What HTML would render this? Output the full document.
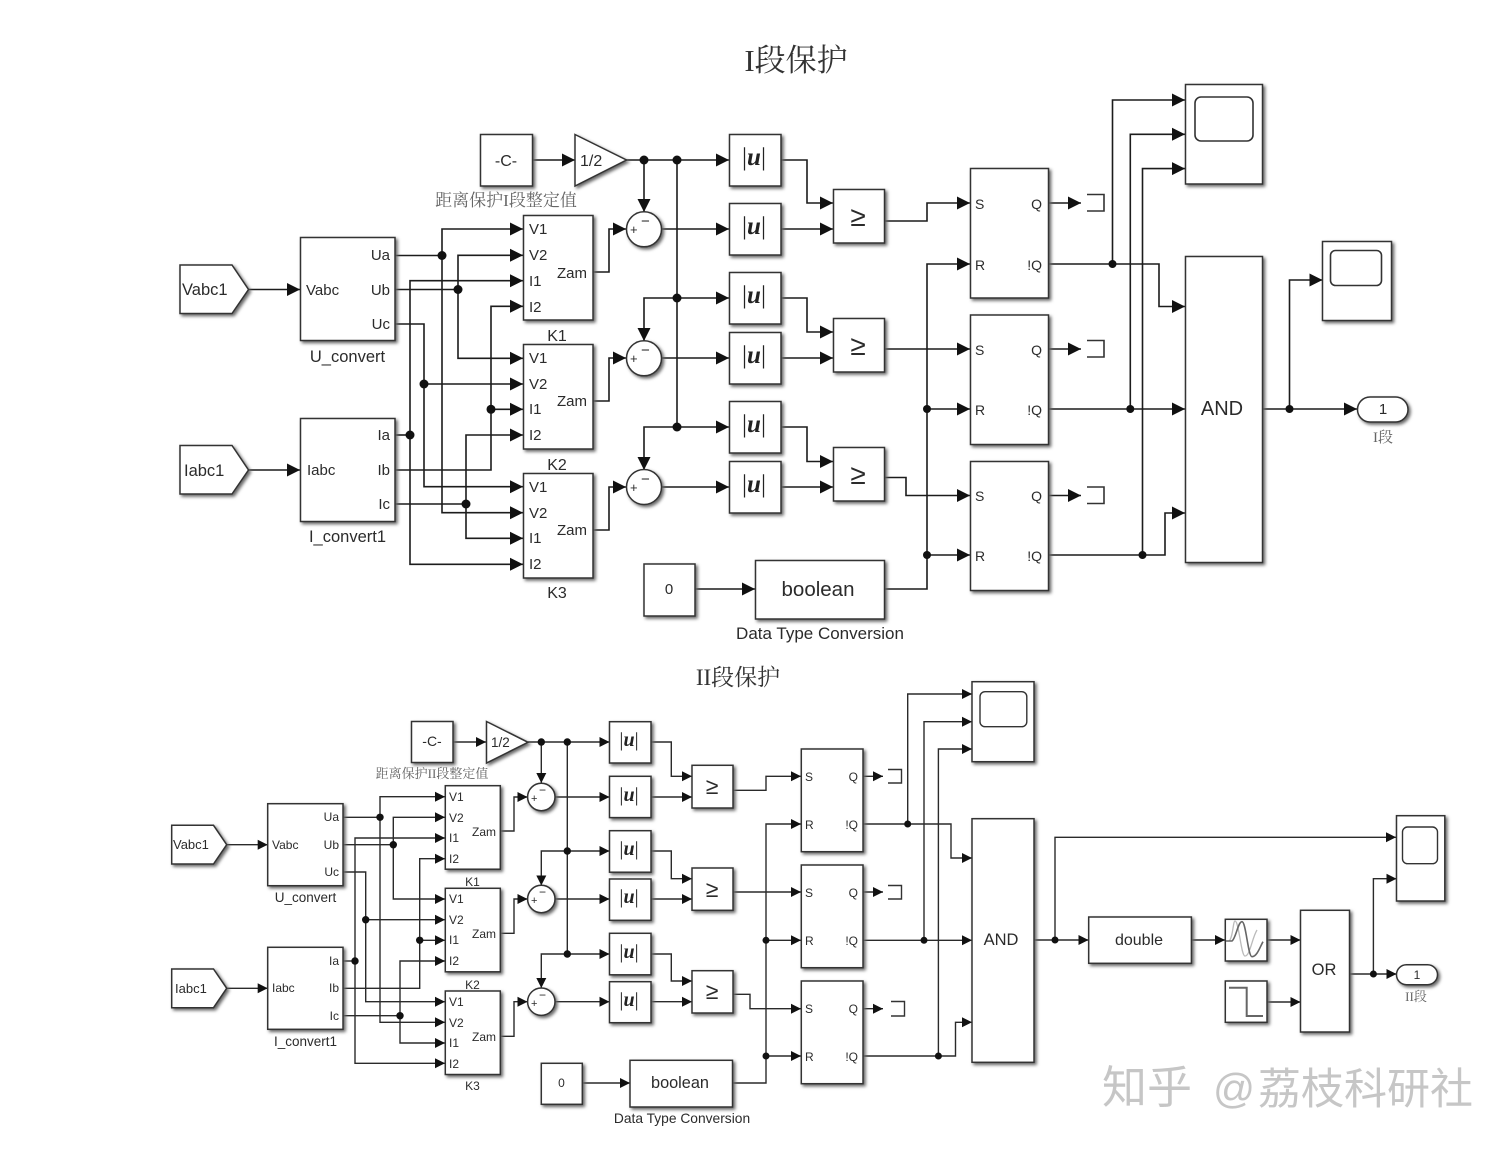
<!DOCTYPE html>
<html lang="zh">
<head>
<meta charset="utf-8">
<title>I段保护 / II段保护</title>
<style>
html,body{margin:0;padding:0;background:#fff}
svg{display:block;filter:blur(.35px)}
.w{fill:none;stroke:#1c1c1c;stroke-width:1.6}
.w2{fill:none;stroke:#2a2a2a;stroke-width:1.4}
.b rect,.b path.s,.b circle{fill:#fff;stroke:#333;stroke-width:1.5}
.b{filter:drop-shadow(2.5px 2.5px 1.5px #666)}
text{font-family:"Liberation Sans","Noto Sans CJK SC",sans-serif;fill:#2b2b2b}
.m{text-anchor:middle}.e{text-anchor:end}
.u{font-family:"Liberation Serif",serif;font-size:25px;text-anchor:middle;fill:#222}
.u2{font-family:"Liberation Serif",serif;font-size:20px;text-anchor:middle;fill:#222}
.u tspan,.u2 tspan{font-style:italic;font-weight:bold}
.t{font-family:"Liberation Serif","Noto Serif CJK SC",serif;text-anchor:middle;fill:#333}
.c{font-family:"Liberation Serif","Noto Serif CJK SC",serif;text-anchor:middle;fill:#666}
</style>
</head>
<body>
<svg xmlns="http://www.w3.org/2000/svg" width="1511" height="1150" viewBox="0 0 1511 1150">
<defs>
<marker id="a" markerUnits="userSpaceOnUse" markerWidth="14" markerHeight="14" refX="13" refY="7" orient="auto"><path d="M0 0.5L13 7L0 13.500z" fill="#111"/></marker>
<marker id="c" markerUnits="userSpaceOnUse" markerWidth="11" markerHeight="11" refX="10" refY="5.500" orient="auto"><path d="M0 0.500L10 5.500L0 10.500z" fill="#111"/></marker>
</defs>
<rect width="1511" height="1150" fill="#fff"/>

<text class="t" x="796" y="71" style="font-size:31px">I段保护</text>
<text class="t" x="738" y="685" style="font-size:23px">II段保护</text>

<!-- ================= TOP WIRES ================= -->
<g class="w" marker-end="url(#a)">
<polyline points="532,160 575,160"/>
<polyline points="626,160 729,160"/>
<polyline points="644,160 644,212"/>
<polyline points="661,229 729,229"/>
<polyline points="677,298 729,298"/>
<polyline points="677,298 644,298 644,341"/>
<polyline points="661,358 729,358"/>
<polyline points="677,427 729,427"/>
<polyline points="677,427 644,427 644,470"/>
<polyline points="661,487 729,487"/>
<polyline points="593,272 609,272 609,229 626,229"/>
<polyline points="593,401 609,401 609,358 626,358"/>
<polyline points="593,530 609,530 609,487 626,487"/>
<polyline points="248,289.500 300,289.500"/>
<polyline points="248,470 300,470"/>
<polyline points="442,255.500 442,229 523,229"/>
<polyline points="442,255.500 442,512.700 523,512.700"/>
<polyline points="458,289.500 458,255.300 523,255.300"/>
<polyline points="458,289.500 458,358.300 523,358.300"/>
<polyline points="424,384 523,384"/>
<polyline points="395,324 424,324 424,486.700 523,486.700"/>
<polyline points="410,435 410,280.700 523,280.700"/>
<polyline points="410,435 410,564.300 523,564.300"/>
<polyline points="491,409.300 491,306.300 523,306.300"/>
<polyline points="395,470 491,470 491,409.300 523,409.300"/>
<polyline points="466,504 466,435 523,435"/>
<polyline points="466,504 466,538.300 523,538.300"/>
<polyline points="781,160 807,160 807,203 833,203"/>
<polyline points="781,229 833,229"/>
<polyline points="781,298 807,298 807,332 833,332"/>
<polyline points="781,358 833,358"/>
<polyline points="781,427 807,427 807,461.500 833,461.500"/>
<polyline points="781,487 833,487"/>
<polyline points="884,221 927,221 927,203 970,203"/>
<polyline points="884,349 970,349"/>
<polyline points="884,477.500 906,477.500 906,495.500 970,495.500"/>
<polyline points="927,409 927,264 970,264"/>
<polyline points="927,409 970,409"/>
<polyline points="927,555 970,555"/>
<polyline points="695,589 755,589"/>
<polyline points="1048,203 1081,203"/>
<polyline points="1048,349 1081,349"/>
<polyline points="1048,495.500 1081,495.500"/>
<polyline points="1112.500,264 1112.500,100 1185,100"/>
<polyline points="1048,264 1159,264 1159,306.500 1185,306.500"/>
<polyline points="1130.300,409 1130.300,134.300 1185,134.300"/>
<polyline points="1048,409 1185,409"/>
<polyline points="1142.500,555 1142.500,168.600 1185,168.600"/>
<polyline points="1048,555 1165,555 1165,513 1185,513"/>
<polyline points="1289.500,409 1289.500,280 1322.500,280"/>
<polyline points="1262,409 1357,409"/>
</g>
<g class="w">
<polyline points="677,160 677,427"/>
<polyline points="395,255.500 442,255.500"/>
<polyline points="395,289.500 458,289.500"/>
<polyline points="395,435 410,435"/>
<polyline points="395,504 466,504"/>
<polyline points="884,589 927,589 927,409"/>
</g>
<g fill="#111">
<circle cx="644" cy="160" r="4.500"/><circle cx="677" cy="160" r="4.500"/><circle cx="677" cy="298" r="4.500"/><circle cx="677" cy="427" r="4.500"/>
<circle cx="442" cy="255.500" r="4.500"/><circle cx="458" cy="289.500" r="4.500"/><circle cx="424" cy="384" r="4.500"/><circle cx="410" cy="435" r="4.500"/><circle cx="491" cy="409.300" r="4.500"/><circle cx="466" cy="504" r="4.500"/>
<circle cx="927" cy="409" r="4"/><circle cx="927" cy="555" r="4"/><circle cx="1112.500" cy="264" r="4"/><circle cx="1130.300" cy="409" r="4"/><circle cx="1142.500" cy="555" r="4"/><circle cx="1289.500" cy="409" r="4"/>
</g>

<!-- TOP BLOCKS -->
<g class="b">
<rect x="480.500" y="134.500" width="52" height="51.500"/>
<path class="s" d="M575 134.500L626.500 160L575 186z"/>
<path class="s" d="M180 265H232L248.500 289.500L232 313.500H180z"/>
<path class="s" d="M180 445.500H232L248.500 470L232 494H180z"/>
<rect x="300.500" y="237.500" width="94.500" height="103"/>
<rect x="300.500" y="418.500" width="94.500" height="103"/>
<rect x="523.500" y="215.500" width="69.500" height="104.500"/>
<rect x="523.500" y="344.500" width="69.500" height="104.500"/>
<rect x="523.500" y="473.500" width="69.500" height="104.500"/>
<circle cx="644" cy="229.300" r="17.500"/><circle cx="644" cy="358.300" r="17.500"/><circle cx="644" cy="487" r="17.500"/>
<rect x="729.500" y="134.500" width="51.500" height="51.500"/>
<rect x="729.500" y="203.500" width="51.500" height="51.500"/>
<rect x="729.500" y="272.500" width="51.500" height="51.500"/>
<rect x="729.500" y="332.500" width="51.500" height="51.500"/>
<rect x="729.500" y="401.500" width="51.500" height="51.500"/>
<rect x="729.500" y="461.500" width="51.500" height="51.500"/>
<rect x="833.500" y="189.500" width="51" height="53.500"/>
<rect x="833.500" y="318.500" width="51" height="53.500"/>
<rect x="833.500" y="447.500" width="51" height="53.500"/>
<rect x="970.500" y="168.500" width="78" height="129.500"/>
<rect x="970.500" y="315" width="78" height="129.500"/>
<rect x="970.500" y="461.500" width="78" height="129"/>
<rect x="1185.500" y="84.500" width="77" height="99.500"/>
<rect x="1185.500" y="256.500" width="77" height="306"/>
<rect x="1322.500" y="241.500" width="69" height="79"/>
<rect x="1357.500" y="397" width="50.500" height="25" rx="12.500"/>
<rect x="644" y="564" width="51" height="52"/>
<rect x="755.500" y="560.500" width="129" height="58.500"/>
</g>
<g fill="none" stroke="#333" stroke-width="1.600">
<rect x="1195" y="97" width="58" height="44" rx="6"/>
<rect x="1330.500" y="250.500" width="51" height="35" rx="5"/>
<path d="M1087 194.500H1104V211H1087"/>
<path d="M1087 340.500H1104V357H1087"/>
<path d="M1087 487H1104V503.500H1087"/>
</g>

<!-- TOP TEXT -->
<g style="font-size:15px">
<text class="m" x="506" y="166" style="font-size:16px">-C-</text>
<text x="580" y="166" style="font-size:16px">1/2</text>
<text class="c" x="506" y="206" style="font-size:17px">距离保护I段整定值</text>
<text x="182" y="295" style="font-size:16.500px">Vabc1</text>
<text x="184" y="476" style="font-size:16.500px">Iabc1</text>
<text x="306" y="295">Vabc</text><text x="307" y="475">Iabc</text>
<text class="e" x="390" y="260">Ua</text><text class="e" x="390" y="295">Ub</text><text class="e" x="390" y="329">Uc</text>
<text class="e" x="390" y="440">Ia</text><text class="e" x="390" y="475">Ib</text><text class="e" x="390" y="509">Ic</text>
<text class="m" x="347.500" y="362" style="font-size:16.500px">U_convert</text>
<text class="m" x="347.500" y="542" style="font-size:16.500px">I_convert1</text>
<text x="529" y="234">V1</text><text x="529" y="260">V2</text><text x="529" y="286">I1</text><text x="529" y="312">I2</text>
<text x="529" y="363">V1</text><text x="529" y="389">V2</text><text x="529" y="414">I1</text><text x="529" y="440">I2</text>
<text x="529" y="492">V1</text><text x="529" y="518">V2</text><text x="529" y="543">I1</text><text x="529" y="569">I2</text>
<text class="e" x="587" y="278">Zam</text><text class="e" x="587" y="406">Zam</text><text class="e" x="587" y="535">Zam</text>
<text class="m" x="557" y="341" style="font-size:16px">K1</text><text class="m" x="557" y="470" style="font-size:16px">K2</text><text class="m" x="557" y="598" style="font-size:16px">K3</text>
<text x="630" y="234" style="font-size:13px">+</text><text x="641" y="226" style="font-size:15px">−</text>
<text x="630" y="363" style="font-size:13px">+</text><text x="641" y="355" style="font-size:15px">−</text>
<text x="630" y="492" style="font-size:13px">+</text><text x="641" y="484" style="font-size:15px">−</text>
<text class="u" x="754" y="165">|<tspan>u</tspan>|</text><text class="u" x="754" y="234">|<tspan>u</tspan>|</text>
<text class="u" x="754" y="303">|<tspan>u</tspan>|</text><text class="u" x="754" y="363">|<tspan>u</tspan>|</text>
<text class="u" x="754" y="432">|<tspan>u</tspan>|</text><text class="u" x="754" y="492">|<tspan>u</tspan>|</text>
<text class="m" x="858" y="226" style="font-size:28px">≥</text><text class="m" x="858" y="355" style="font-size:28px">≥</text><text class="m" x="858" y="484" style="font-size:28px">≥</text>
<text x="975" y="209" style="font-size:14px">S</text><text class="e" x="1042" y="209" style="font-size:14px">Q</text>
<text x="975" y="270" style="font-size:14px">R</text><text class="e" x="1042" y="270" style="font-size:14px">!Q</text>
<text x="975" y="355" style="font-size:14px">S</text><text class="e" x="1042" y="355" style="font-size:14px">Q</text>
<text x="975" y="415" style="font-size:14px">R</text><text class="e" x="1042" y="415" style="font-size:14px">!Q</text>
<text x="975" y="501" style="font-size:14px">S</text><text class="e" x="1042" y="501" style="font-size:14px">Q</text>
<text x="975" y="561" style="font-size:14px">R</text><text class="e" x="1042" y="561" style="font-size:14px">!Q</text>
<text class="m" x="1222" y="415" style="font-size:20px">AND</text>
<text class="m" x="1383" y="414" style="font-size:15px">1</text>
<text class="c" x="1383" y="442" style="font-size:15px">I段</text>
<text class="m" x="669" y="594" style="font-size:15px">0</text>
<text class="m" x="818" y="596" style="font-size:20.500px">boolean</text>
<text class="m" x="820" y="639" style="font-size:17px">Data Type Conversion</text>
</g>

<!-- ================= BOTTOM WIRES ================= -->
<g class="w2" marker-end="url(#c)">
<polyline points="453,742 486,742"/>
<polyline points="528,742 609.500,742"/>
<polyline points="541.300,742 541.300,783"/>
<polyline points="555,797 609.500,797"/>
<polyline points="567.300,851 609.500,851"/>
<polyline points="567.300,851 541.300,851 541.300,885.500"/>
<polyline points="555,899 609.500,899"/>
<polyline points="567.300,954 609.500,954"/>
<polyline points="567.300,954 541.300,954 541.300,988"/>
<polyline points="555,1001.700 609.500,1001.700"/>
<polyline points="500,831 514,831 514,797 527.500,797"/>
<polyline points="500,933.300 514,933.300 514,899 527.500,899"/>
<polyline points="500,1036.300 514,1036.300 514,1001.700 527.500,1001.700"/>
<polyline points="227,844.700 267.700,844.700"/>
<polyline points="227,988.300 267.700,988.300"/>
<polyline points="380,817.300 380,796.700 445,796.700"/>
<polyline points="380,817.300 380,1022.300 445,1022.300"/>
<polyline points="393.300,844.700 393.300,817.300 445,817.300"/>
<polyline points="393.300,844.700 393.300,899 445,899"/>
<polyline points="365.700,919.700 445,919.700"/>
<polyline points="343,872 365.700,872 365.700,1001.700 445,1001.700"/>
<polyline points="355,961 355,838 445,838"/>
<polyline points="355,961 355,1063.300 445,1063.300"/>
<polyline points="419.700,940.300 419.700,858.700 445,858.700"/>
<polyline points="343,988.300 419.700,988.300 419.700,940.300 445,940.300"/>
<polyline points="400,1015.700 400,961 445,961"/>
<polyline points="400,1015.700 400,1043 445,1043"/>
<polyline points="651,742 671.300,742 671.300,776.300 692,776.300"/>
<polyline points="651,797 692,797"/>
<polyline points="651,851 671.300,851 671.300,878.700 692,878.700"/>
<polyline points="651,899 692,899"/>
<polyline points="651,954 671.300,954 671.300,981 692,981"/>
<polyline points="651,1001.700 692,1001.700"/>
<polyline points="733,790.300 766,790.300 766,776.300 801,776.300"/>
<polyline points="733,892 801,892"/>
<polyline points="733,994.300 750,994.300 750,1008.700 801,1008.700"/>
<polyline points="766,940.300 766,824 801,824"/>
<polyline points="766,940.300 801,940.300"/>
<polyline points="766,1056 801,1056"/>
<polyline points="582.500,1083 630,1083"/>
<polyline points="863,776.300 883,776.300"/>
<polyline points="863,892 883,892"/>
<polyline points="863,1008.700 883,1008.700"/>
<polyline points="907.700,824 907.700,694 972,694"/>
<polyline points="863,824 951,824 951,858 972,858"/>
<polyline points="924,940.300 924,721.700 972,721.700"/>
<polyline points="863,940.300 972,940.300"/>
<polyline points="938.400,1056 938.400,749 972,749"/>
<polyline points="863,1056 955.500,1056 955.500,1022.300 972,1022.300"/>
<polyline points="1055,940 1055,837.300 1396,837.300"/>
<polyline points="1034,940 1088.500,940"/>
<polyline points="1191.500,940 1225,940"/>
<polyline points="1267,940 1300.500,940"/>
<polyline points="1267,1002 1300.500,1002"/>
<polyline points="1373.400,974 1373.400,878.700 1396.500,878.700"/>
<polyline points="1349.500,974 1396.500,974"/>
</g>
<g class="w2">
<polyline points="567.300,742 567.300,954"/>
<polyline points="343,817.300 380,817.300"/>
<polyline points="343,844.700 393.300,844.700"/>
<polyline points="343,961 355,961"/>
<polyline points="343,1015.700 400,1015.700"/>
<polyline points="733,1083 766,1083 766,940.300"/>
</g>
<g fill="#111">
<circle cx="541.300" cy="742" r="3.700"/><circle cx="567.300" cy="742" r="3.700"/><circle cx="567.300" cy="851" r="3.700"/><circle cx="567.300" cy="954" r="3.700"/>
<circle cx="380" cy="817.300" r="3.700"/><circle cx="393.300" cy="844.700" r="3.700"/><circle cx="365.700" cy="919.700" r="3.700"/><circle cx="355" cy="961" r="3.700"/><circle cx="419.700" cy="940.300" r="3.700"/><circle cx="400" cy="1015.700" r="3.700"/>
<circle cx="766" cy="940.300" r="3.500"/><circle cx="766" cy="1056" r="3.500"/><circle cx="907.700" cy="824" r="3.500"/><circle cx="924" cy="940.300" r="3.500"/><circle cx="938.400" cy="1056" r="3.500"/><circle cx="1055" cy="940" r="3.500"/><circle cx="1373.400" cy="974" r="3.500"/>
</g>

<!-- BOTTOM BLOCKS -->
<g class="b">
<rect x="411.500" y="721.500" width="41.500" height="41"/>
<path class="s" d="M486.500 721.500L528 742.300L486.500 763z"/>
<path class="s" d="M171.700 825.300H213.500L226.700 844.700L213.500 864H171.700z"/>
<path class="s" d="M171.700 969H213.500L226.700 988.300L213.500 1007.700H171.700z"/>
<rect x="267.700" y="803.700" width="75.300" height="82"/>
<rect x="267.700" y="947.300" width="75.300" height="82"/>
<rect x="445.300" y="785.700" width="55" height="83.500"/>
<rect x="445.300" y="888.300" width="55" height="83.500"/>
<rect x="445.300" y="991" width="55" height="83.500"/>
<circle cx="541.300" cy="797" r="13.700"/><circle cx="541.300" cy="899" r="13.700"/><circle cx="541.300" cy="1001.700" r="13.700"/>
<rect x="609.500" y="721.700" width="41.500" height="41.300"/>
<rect x="609.500" y="776.300" width="41.500" height="41.300"/>
<rect x="609.500" y="830.700" width="41.500" height="41.500"/>
<rect x="609.500" y="879" width="41.500" height="41.300"/>
<rect x="609.500" y="933.300" width="41.500" height="41.500"/>
<rect x="609.500" y="981.700" width="41.500" height="41"/>
<rect x="692" y="765.300" width="41" height="42.700"/>
<rect x="692" y="868" width="41" height="42.300"/>
<rect x="692" y="970.700" width="41" height="42.300"/>
<rect x="801.300" y="749" width="61.700" height="102.700"/>
<rect x="801.300" y="865" width="61.700" height="102.700"/>
<rect x="801.300" y="981" width="61.700" height="102.700"/>
<rect x="972" y="681.700" width="62" height="80"/>
<rect x="972" y="818.700" width="62" height="243.600"/>
<rect x="541.300" y="1063.300" width="41" height="41"/>
<rect x="630" y="1060.300" width="102.500" height="46.700"/>
<rect x="1088.700" y="917" width="102.700" height="46.300"/>
<rect x="1225.300" y="919.300" width="41.700" height="41.700"/>
<rect x="1225.300" y="981" width="41.700" height="41.300"/>
<rect x="1300.500" y="910.300" width="49" height="121.700"/>
<rect x="1396.500" y="815.700" width="48.300" height="85.300"/>
<rect x="1396.500" y="964.700" width="41" height="20" rx="10"/>
</g>
<g fill="none" stroke="#333" stroke-width="1.400">
<rect x="980" y="691.700" width="46.800" height="35" rx="5"/>
<rect x="1402.500" y="827" width="35" height="36.700" rx="5"/>
<path d="M888 769.500H901.500V783H888"/>
<path d="M888 885.500H901.500V899H888"/>
<path d="M891 1001.500H904.500V1016H891"/>
<path d="M1229 987.700H1246.700V1016H1263" stroke="#666" stroke-width="2"/>
<path d="M1229 941C1233 938 1233 921 1235 921C1239 921 1241 956 1245 956C1250 956 1252 938 1257 930" stroke="#bbb" stroke-width="1.300"/>
<path d="M1226 941H1232C1236 938 1238 921.700 1242 921.700C1246 921.700 1248 956.700 1252 956.700C1257 956.700 1260 947 1263 941.700" stroke="#666" stroke-width="1.600"/>
</g>

<text x="1102" y="1103" style="font-family:'Noto Sans CJK SC','WenQuanYi Zen Hei',sans-serif;font-size:45px;fill:#c6c6c6">知乎</text>
<text x="1213" y="1103" style="font-family:'Liberation Sans',sans-serif;font-size:41.500px;fill:#c6c6c6">@</text>
<text x="1258" y="1104" style="font-family:'Noto Sans CJK SC','WenQuanYi Zen Hei',sans-serif;font-size:43px;fill:#c6c6c6">荔枝科研社</text>

<!-- BOTTOM TEXT -->
<g style="font-size:12px">
<text class="m" x="432" y="746" style="font-size:14px">-C-</text>
<text x="491" y="747" style="font-size:13.500px">1/2</text>
<text class="c" x="432" y="778" style="font-size:13px">距离保护II段整定值</text>
<text x="173" y="849" style="font-size:13px">Vabc1</text>
<text x="175" y="993" style="font-size:13px">Iabc1</text>
<text x="272" y="849">Vabc</text><text x="272" y="992">Iabc</text>
<text class="e" x="339" y="821">Ua</text><text class="e" x="339" y="849">Ub</text><text class="e" x="339" y="876">Uc</text>
<text class="e" x="339" y="965">Ia</text><text class="e" x="339" y="992">Ib</text><text class="e" x="339" y="1020">Ic</text>
<text class="m" x="305.500" y="902" style="font-size:13.500px">U_convert</text>
<text class="m" x="305.500" y="1046" style="font-size:13.500px">I_convert1</text>
<text x="449" y="801">V1</text><text x="449" y="822">V2</text><text x="449" y="842">I1</text><text x="449" y="863">I2</text>
<text x="449" y="903">V1</text><text x="449" y="924">V2</text><text x="449" y="944">I1</text><text x="449" y="965">I2</text>
<text x="449" y="1006">V1</text><text x="449" y="1027">V2</text><text x="449" y="1047">I1</text><text x="449" y="1068">I2</text>
<text class="e" x="496" y="836">Zam</text><text class="e" x="496" y="938">Zam</text><text class="e" x="496" y="1041">Zam</text>
<text class="m" x="472.500" y="886">K1</text><text class="m" x="472.500" y="989">K2</text><text class="m" x="472.500" y="1090">K3</text>
<text x="531" y="802" style="font-size:11px">+</text><text x="539" y="794" style="font-size:12px">−</text>
<text x="531" y="904" style="font-size:11px">+</text><text x="539" y="896" style="font-size:12px">−</text>
<text x="531" y="1007" style="font-size:11px">+</text><text x="539" y="999" style="font-size:12px">−</text>
<text class="u2" x="629" y="746">|<tspan>u</tspan>|</text><text class="u2" x="629" y="801">|<tspan>u</tspan>|</text>
<text class="u2" x="629" y="855">|<tspan>u</tspan>|</text><text class="u2" x="629" y="903">|<tspan>u</tspan>|</text>
<text class="u2" x="629" y="958">|<tspan>u</tspan>|</text><text class="u2" x="629" y="1006">|<tspan>u</tspan>|</text>
<text class="m" x="712" y="794" style="font-size:23px">≥</text><text class="m" x="712" y="897" style="font-size:23px">≥</text><text class="m" x="712" y="999" style="font-size:23px">≥</text>
<text x="805" y="781">S</text><text class="e" x="858" y="781">Q</text>
<text x="805" y="829">R</text><text class="e" x="858" y="829">!Q</text>
<text x="805" y="897">S</text><text class="e" x="858" y="897">Q</text>
<text x="805" y="945">R</text><text class="e" x="858" y="945">!Q</text>
<text x="805" y="1013">S</text><text class="e" x="858" y="1013">Q</text>
<text x="805" y="1061">R</text><text class="e" x="858" y="1061">!Q</text>
<text class="m" x="1001" y="945" style="font-size:16.500px">AND</text>
<text class="m" x="1139" y="945" style="font-size:16px">double</text>
<text class="m" x="1324" y="975" style="font-size:16.500px">OR</text>
<text class="m" x="1417" y="979">1</text>
<text class="c" x="1416" y="1001" style="font-size:13px">II段</text>
<text class="m" x="561.500" y="1087">0</text>
<text class="m" x="680" y="1088" style="font-size:16.300px">boolean</text>
<text class="m" x="682" y="1123" style="font-size:13.800px">Data Type Conversion</text>
</g>
</svg>
</body>
</html>
